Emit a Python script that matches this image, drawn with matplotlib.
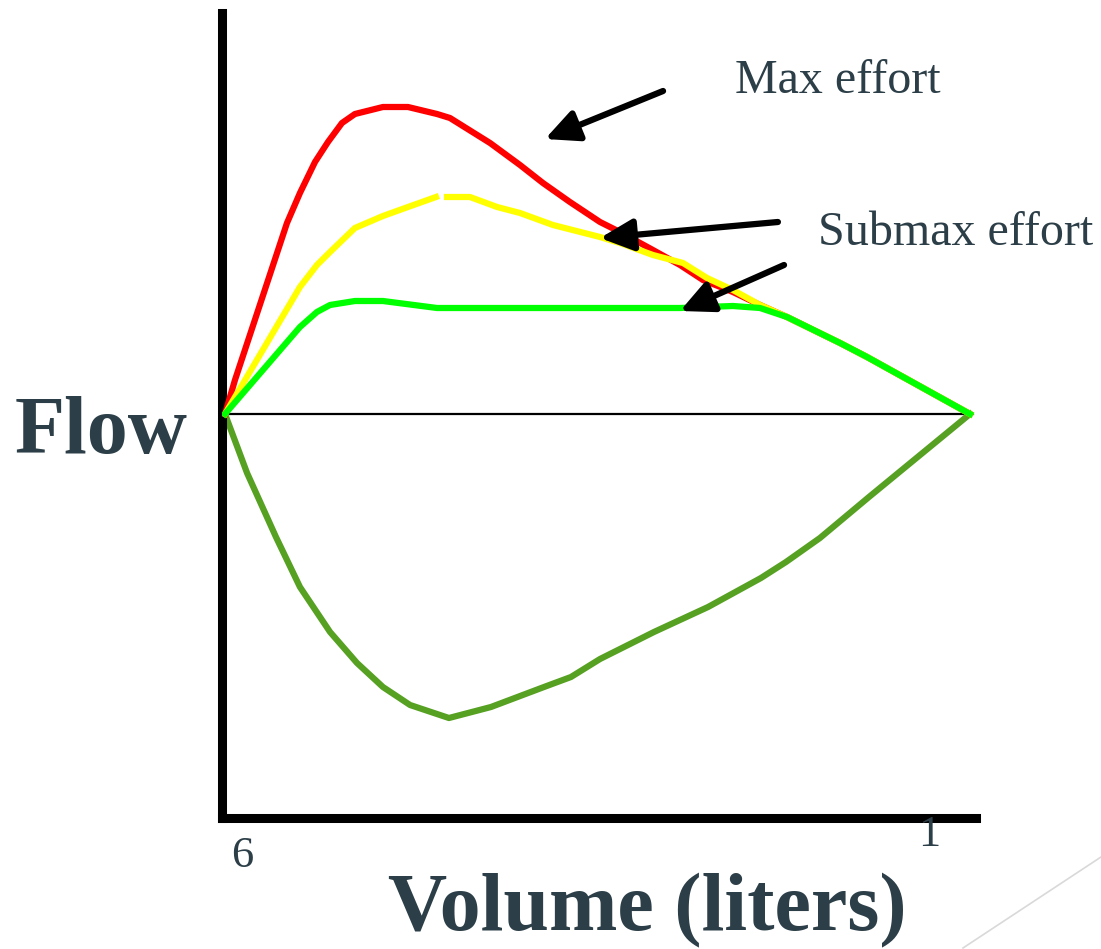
import numpy as np
import matplotlib
matplotlib.use("Agg")
import matplotlib.pyplot as plt
from matplotlib.lines import Line2D

# ---- data (volume in liters, flow in arbitrary units) ----
max_vol = [6.000, 5.933, 5.584, 5.497, 5.396, 5.309, 5.215, 5.128, 4.940, 4.772,
           4.577, 4.490, 4.221, 4.020, 3.866, 3.685, 3.483, 3.349, 3.128, 2.946,
           2.792, 2.591, 2.409, 2.228, 1.872, 1.691, 1.000]
max_flow = [0.00, 0.68, 3.82, 4.42, 5.04, 5.44, 5.82, 6.00, 6.14, 6.14,
            6.00, 5.92, 5.42, 4.98, 4.62, 4.24, 3.84, 3.64, 3.28, 2.98,
            2.68, 2.44, 2.18, 1.94, 1.42, 1.14, 0.00]

sub_vol = [6.000, 5.497, 5.383, 5.295, 5.128, 4.940, 4.772, 4.584, np.nan,
           4.510, 4.356, 4.174, 4.020, 3.799, 3.483, 3.349, 3.128, 2.926,
           2.765, 2.591, 2.409, 2.228, 1.872, 1.691, 1.000]
sub_flow = [0.00, 2.54, 2.98, 3.24, 3.72, 3.96, 4.14, 4.34, np.nan,
            4.34, 4.34, 4.14, 4.02, 3.78, 3.54, 3.42, 3.18, 3.02,
            2.72, 2.48, 2.18, 1.94, 1.42, 1.14, 0.00]

low_vol = [6.000, 5.497, 5.383, 5.295, 5.128, 4.940, 4.577, 3.866, 2.946,
           2.591, 2.409, 2.228, 1.872, 1.691, 1.000]
low_flow = [0.00, 1.74, 2.04, 2.18, 2.26, 2.26, 2.12, 2.12, 2.12,
            2.16, 2.12, 1.94, 1.42, 1.14, 0.00]

insp_vol = [6.000, 5.852, 5.658, 5.497, 5.295, 5.114, 4.940, 4.758, 4.497, 4.215,
            3.859, 3.678, 3.483, 3.121, 2.758, 2.403, 2.235, 2.007, 1.678, 1.000]
insp_flow = [0.00, -1.18, -2.46, -3.46, -4.36, -4.98, -5.46, -5.82, -6.08, -5.86,
             -5.46, -5.26, -4.90, -4.36, -3.86, -3.28, -2.96, -2.48, -1.66, 0.00]

# arrows: (tail volume, tail flow, tip volume, tip flow)
arrow_tail_vol = [3.060, 2.289, 2.248]
arrow_tail_flow = [6.46, 3.84, 2.98]
arrow_tip_vol = [3.852, 3.483, 2.946]
arrow_tip_flow = [5.50, 3.52, 2.06]

xtick_values = [6, 1]
xtick_labels = ['6', '1']

TEXT = '#2c3e47'
W, H = 1101, 949

fig = plt.figure(figsize=(W / 100, H / 100), dpi=100)
ax = fig.add_axes([221.5 / W, 1 - 817.5 / H, (975.5 - 221.5) / W, (817.5 - 12.5) / H])
ax.set_xlim(6.0235, 0.963)
ax.set_ylim(-8.07, 8.03)
for s in ['top', 'right']:
    ax.spines[s].set_visible(False)
for s in ['left', 'bottom']:
    ax.spines[s].set_linewidth(6.5)
    ax.spines[s].set_color('black')
ax.set_xticks([])
ax.set_yticks([])
ax.patch.set_alpha(0)

# zero line
ax.plot([xtick_values[0], xtick_values[1]], [0, 0], color='black', lw=1.6, zorder=1)

ax.plot(insp_vol, insp_flow, color='#56a022', lw=4.5, zorder=2)
ax.plot(max_vol, max_flow, color='#ff0000', lw=4.5, zorder=3)
ax.plot(sub_vol, sub_flow, color='#ffff00', lw=4.5, zorder=4)
ax.plot(low_vol, low_flow, color='#00ff00', lw=4.5, zorder=5)

for tv, tf, hv, hf in zip(arrow_tail_vol, arrow_tail_flow, arrow_tip_vol, arrow_tip_flow):
    ax.annotate('', xy=(hv, hf), xytext=(tv, tf),
                arrowprops=dict(arrowstyle='-|>,head_length=1.0,head_width=0.48',
                                mutation_scale=20, lw=4.5, color='black',
                                shrinkA=0, shrinkB=0), zorder=6)

serif = 'Liberation Serif'
fig.text(735 / W, 1 - 93 / H, 'Max effort', family=serif, fontsize=34.6,
         color=TEXT, ha='left', va='baseline')
fig.text(818 / W, 1 - 245 / H, 'Submax effort', family=serif, fontsize=34.6,
         color=TEXT, ha='left', va='baseline')
fig.text(15 / W, 1 - 453 / H, 'Flow', family=serif, fontsize=59, fontweight='bold',
         color=TEXT, ha='left', va='baseline')
fig.text(388 / W, 1 - 930 / H, 'Volume (liters)', family=serif, fontsize=59,
         fontweight='bold', color=TEXT, ha='left', va='baseline')

# tick labels
tick_px = [(242, 867), (929, 846)]
for lab, (px, py) in zip(xtick_labels, tick_px):
    fig.text(px / W, 1 - py / H, lab, family=serif, fontsize=32,
             color=TEXT, ha='center', va='baseline')

# decorative slide line
fig.add_artist(Line2D([1101 / W, 963 / W], [1 - 857 / H, 1 - 948 / H],
                      transform=fig.transFigure, color='#d9d9d9', lw=1.2))

fig.savefig('out.png', dpi=100)
